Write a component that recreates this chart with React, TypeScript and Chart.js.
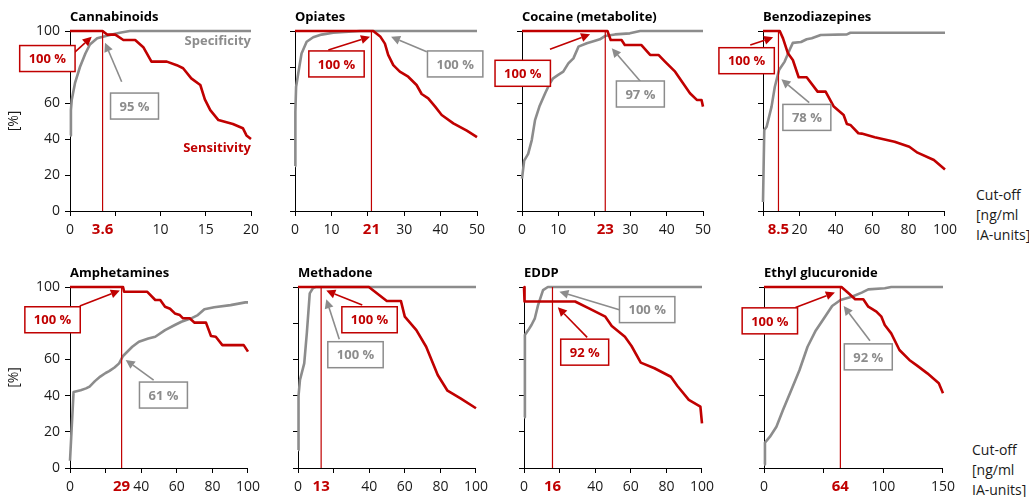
import React, { useEffect, useRef } from 'react';
import { Chart, registerables } from 'chart.js';

Chart.register(...registerables);

const FONT = "'Open Sans', 'DejaVu Sans', sans-serif";
const RED = '#C00000';
const GRAY = '#8C8C8C';
const INK = '#1A1A1A';

type Pt = [number, number];

// ---------- data: [cut-off, %] ----------
const cannabinoidsSensitivity: Pt[] = [[0,100],[3.6,100],[4.1,98],[5.0,98],[5.9,95],[7.2,95],[8.1,91],[9.0,83],[10.7,83],[11.8,81],[12.5,79.3],[13.4,73.7],[14.4,70],[14.9,62],[15.5,56],[16.4,50.5],[18.0,48.3],[19.1,46],[19.5,42],[20,40]];
const cannabinoidsSpecificity: Pt[] = [[0,42],[0.1,56],[0.2,62],[0.55,71],[1.1,80],[1.7,87.5],[2.2,92.5],[3,96],[4.4,97.8],[5.5,99],[6.6,100],[20,100]];

const opiatesSensitivity: Pt[] = [[0,100],[21.5,100],[23.4,97],[24.7,93],[25.6,86.7],[27,81],[28.8,77.4],[31.1,74.6],[33.4,70],[34.8,65],[36.6,62.6],[38.5,58],[40.3,53.3],[43.5,48.7],[47.2,44.6],[50,41]];
const opiatesSpecificity: Pt[] = [[0,25],[0.1,55],[0.3,69],[0.9,76.5],[1.8,87.5],[3.2,94],[5,96.5],[7.3,98],[10.5,99],[17.9,100],[50,100]];

const cocaineSensitivity: Pt[] = [[0,100],[23.6,100],[24.5,95],[27.5,95],[28.4,92.2],[33,92.2],[35.4,86.7],[37.7,86.7],[39.5,83],[42.3,77.4],[44.2,71.8],[46.4,65.4],[48.3,61.7],[49.6,61.7],[50,58]];
const cocaineSpecificity: Pt[] = [[0,18],[0.6,28],[1.7,31.7],[2.7,39.4],[3.6,50.5],[4.8,58],[6.4,65.4],[7.7,71],[8.6,73.7],[10,75.6],[11.4,77.4],[12.8,82],[14.2,84.8],[15.6,91.3],[17.9,93.2],[20.2,94.6],[21.5,95.4],[22.9,97.2],[25.7,98.1],[29.8,98.7],[32.6,100],[50,100]];

const benzodiazepinesSensitivity: Pt[] = [[0,100],[9.2,100],[11,95.9],[13.7,87.6],[16.4,83.9],[19.6,74.3],[24,74.3],[30,66.3],[34.4,66.3],[38.9,58],[44.3,53.3],[46.1,48.3],[48,47.8],[52.4,43.2],[54.2,43],[61.4,41],[72.3,38.5],[80.4,35.7],[84.9,32.4],[93.9,28.3],[100,23]];
const benzodiazepinesSpecificity: Pt[] = [[0,5],[0.7,45],[2,46.8],[4.7,58],[6.5,69],[8.8,78.3],[11.9,83],[14.6,89.4],[16.4,93.4],[20.9,93.9],[24,95.4],[26.8,96],[31.7,97.8],[46.1,98.1],[48,99],[100,99]];

const amphetaminesSensitivity: Pt[] = [[0,100],[29.8,100],[30.4,97.4],[43.3,97.4],[47.9,92.8],[50.7,92.8],[53.4,89.1],[56.2,88],[58.9,85.4],[61.7,84.5],[63.5,82.7],[67.2,82.7],[70,80.3],[76.4,80.3],[79.2,72.9],[81.9,72.5],[85.6,67.9],[97.6,67.9],[100,64.3]];
const amphetaminesSpecificity: Pt[] = [[0,4],[2,42],[6,43],[9,44],[11,45],[14,48],[17,50.5],[20,52.5],[22,53.5],[25,55.5],[27.6,57.8],[29.8,61.9],[35,67],[38.7,69.8],[44,71.5],[47.9,72.5],[53.4,76.2],[58.9,79],[62.6,80.8],[68.1,82.7],[71.8,84.5],[75.5,87.7],[81,88.8],[90.2,90],[98.5,91.5],[100,91.5]];

const methadoneSensitivity: Pt[] = [[0,100],[39.8,100],[49.9,92.3],[57.8,92.3],[60,83.6],[66.5,76.2],[72,67],[78.5,51.4],[84,42.7],[91.3,38.5],[100,33]];
const methadoneSpecificity: Pt[] = [[0,10],[0.3,40],[1.1,48.6],[3.5,57.8],[5,75],[6.6,96.5],[8.5,99.5],[10,100],[100,100]];

const eddpSensitivity: Pt[] = [[0,100],[0.3,92],[28.7,92],[36.5,88.2],[45.7,83.6],[49.3,78.5],[56.7,72.5],[60.4,67.4],[65.6,58.2],[73.3,55.1],[82.5,50.4],[86.2,45.3],[92.6,37.6],[99.1,33.9],[100,24.7]];
const eddpSpecificity: Pt[] = [[0,28],[0.5,73.5],[2.4,76.2],[4.2,79],[6.1,82.7],[7.9,90],[10.7,98.3],[13.4,100],[100,100]];

const etgSensitivity: Pt[] = [[0,100],[64.9,100],[70.9,96.5],[76.4,93.2],[83.2,93.2],[87.4,89.1],[94.2,86.4],[98.4,83.6],[101.2,79],[106.6,74.4],[113.5,65.2],[121.8,59.7],[128.6,56.4],[136.9,52.3],[146.5,46.8],[150,41.3]];
const etgSpecificity: Pt[] = [[0,2],[0.8,14],[5,17.3],[10.4,22.8],[15.9,32],[22.8,43],[29.7,54],[36.5,67],[43.4,76],[50.3,82.7],[57.1,89.5],[64.1,92.8],[73.6,94.6],[81.9,96.9],[87.4,98.7],[101.2,99.3],[106.6,100],[150,100]];

const sensitivitySeries: Pt[][] = [cannabinoidsSensitivity, opiatesSensitivity, cocaineSensitivity, benzodiazepinesSensitivity, amphetaminesSensitivity, methadoneSensitivity, eddpSensitivity, etgSensitivity];
const specificitySeries: Pt[][] = [cannabinoidsSpecificity, opiatesSpecificity, cocaineSpecificity, benzodiazepinesSpecificity, amphetaminesSpecificity, methadoneSpecificity, eddpSpecificity, etgSpecificity];

const titles = ['Cannabinoids', 'Opiates', 'Cocaine (metabolite)', 'Benzodiazepines', 'Amphetamines', 'Methadone', 'EDDP', 'Ethyl glucuronide'];
const cutoffs = [3.6, 21, 23, 8.5, 29, 13, 16, 64];
const cutoffLabels = ['3.6', '21', '23', '8.5', '29', '13', '16', '64'];
const sensitivityAtCutoff = ['100 %', '100 %', '100 %', '100 %', '100 %', '100 %', '92 %', '100 %'];
const specificityAtCutoff = ['95 %', '100 %', '97 %', '78 %', '61 %', '100 %', '100 %', '92 %'];
const xMaxima = [20, 50, 50, 100, 100, 100, 100, 150];
const xSteps = [5, 10, 10, 20, 20, 20, 20, 50];
const xTickLabels = [
  ['0', '', '10', '15', '20'],
  ['0', '10', '', '30', '40', '50'],
  ['0', '10', '', '30', '40', '50'],
  ['', '20', '40', '60', '80', '100'],
  ['0', '', '40', '60', '80', '100'],
  ['0', '', '40', '60', '80', '100'],
  ['0', '', '40', '60', '80', '100'],
  ['0', '', '100', '150'],
];
const yTickLabels = ['0', '20', '40', '60', '80', '100'];

// ---------- layout (page pixels of each plot area: left, top, right, bottom) ----------
const frames = [
  [70, 31, 251, 211], [295, 31, 477, 211], [522, 31, 703, 211], [763, 31, 948, 211],
  [70, 287, 251, 468], [298, 287, 479, 468], [524, 287, 705, 468], [764, 287, 946, 468],
];

// callout positions in data units of each panel
type Callout = { box: Pt; from: Pt; tip: Pt };
const redCallouts: Callout[] = [
  { box: [-2.5, 84.7], from: [0.44, 87.8], tip: [2.4, 96.8] },
  { box: [11.4, 81.7], from: [9.15, 89.4], tip: [20.6, 96.8] },
  { box: [0.2, 76.5], from: [7.73, 89.8], tip: [18.8, 98.2] },
  { box: [-9.0, 83.5], from: [-7, 92.2], tip: [5.6, 96.5] },
  { box: [-9.8, 81.9], from: [5.5, 89.5], tip: [28, 98] },
  { box: [40.2, 81.9], from: [36.1, 90], tip: [15.9, 98] },
  { box: [34.1, 64], from: [35.5, 72.2], tip: [19, 88.8] },
  { box: [4.9, 81.3], from: [26.4, 88.7], tip: [59.4, 97] },
];
const grayCallouts: Callout[] = [
  { box: [7.13, 58.3], from: [5.71, 71.8], tip: [3.87, 93.5] },
  { box: [44, 81.7], from: [36.2, 88.5], tip: [26.4, 96.8] },
  { box: [32.7, 65], from: [32.8, 71.8], tip: [24.8, 90.4] },
  { box: [24.1, 52], from: [25.4, 60.2], tip: [10.1, 73.2] },
  { box: [52.5, 40.3], from: [47, 48.6], tip: [31.3, 59.7] },
  { box: [32.3, 62.6], from: [23.2, 71.1], tip: [15.9, 93.2] },
  { box: [69.2, 87.5], from: [54, 87.3], tip: [19.9, 97.4] },
  { box: [87.4, 61.4], from: [88.8, 70.3], tip: [66.8, 89.5] },
];
const specificityLabelPos: Pt = [20, 92.2];
const sensitivityLabelPos: Pt = [20, 32.9];

Chart.defaults.font.family = FONT;

function drawCallout(ctx: CanvasRenderingContext2D, c: Callout, text: string, color: string, px: (v: number) => number, py: (v: number) => number) {
  const fx = px(c.from[0]), fy = py(c.from[1]);
  const tx = px(c.tip[0]), ty = py(c.tip[1]);
  const ang = Math.atan2(ty - fy, tx - fx);
  const head = 9, half = 4.5;
  const bx = tx - head * Math.cos(ang), by = ty - head * Math.sin(ang);
  ctx.strokeStyle = color;
  ctx.fillStyle = color;
  ctx.lineWidth = 1.6;
  ctx.beginPath();
  ctx.moveTo(fx, fy);
  ctx.lineTo(bx, by);
  ctx.stroke();
  ctx.beginPath();
  ctx.moveTo(tx, ty);
  ctx.lineTo(bx + half * Math.sin(ang), by - half * Math.cos(ang));
  ctx.lineTo(bx - half * Math.sin(ang), by + half * Math.cos(ang));
  ctx.closePath();
  ctx.fill();
  ctx.font = `bold 13px ${FONT}`;
  const tw = ctx.measureText(text).width;
  const w = tw + 18, h = 26;
  const cx = px(c.box[0]), cy = py(c.box[1]);
  ctx.fillStyle = '#fff';
  ctx.fillRect(cx - w / 2, cy - h / 2, w, h);
  ctx.lineWidth = 1.5;
  ctx.strokeStyle = color;
  ctx.strokeRect(cx - w / 2, cy - h / 2, w, h);
  ctx.fillStyle = color;
  ctx.textAlign = 'center';
  ctx.textBaseline = 'middle';
  ctx.fillText(text, cx, cy + 1);
}

function decor(i: number) {
  return {
    id: 'decor' + i,
    afterDraw(chart: any) {
      const { ctx, chartArea, scales } = chart;
      const px = (v: number) => scales.x.getPixelForValue(v);
      const py = (v: number) => scales.y.getPixelForValue(v);
      ctx.save();
      ctx.font = `bold 13px ${FONT}`;
      ctx.fillStyle = '#000';
      ctx.textAlign = 'left';
      ctx.textBaseline = 'alphabetic';
      ctx.fillText(titles[i], chartArea.left, chartArea.top - 10);

      const cx = px(cutoffs[i]);
      ctx.strokeStyle = RED;
      ctx.lineWidth = 1.2;
      ctx.beginPath();
      ctx.moveTo(cx, py(0));
      ctx.lineTo(cx, py(100));
      ctx.stroke();

      ctx.font = `bold 15px ${FONT}`;
      ctx.fillStyle = RED;
      ctx.textAlign = 'center';
      ctx.textBaseline = 'middle';
      ctx.fillText(cutoffLabels[i], cx, chartArea.bottom + 19);

      if (i === 0) {
        ctx.font = `bold 13px ${FONT}`;
        ctx.textAlign = 'right';
        ctx.textBaseline = 'alphabetic';
        ctx.fillStyle = GRAY;
        ctx.fillText('Specificity', px(specificityLabelPos[0]), py(specificityLabelPos[1]));
        ctx.fillStyle = RED;
        ctx.fillText('Sensitivity', px(sensitivityLabelPos[0]), py(sensitivityLabelPos[1]));
      }

      drawCallout(ctx, redCallouts[i], sensitivityAtCutoff[i], RED, px, py);
      drawCallout(ctx, grayCallouts[i], specificityAtCutoff[i], GRAY, px, py);
      ctx.restore();
    },
  };
}

function buildConfig(i: number): any {
  const firstCol = i % 4 === 0;
  const axisGrid = { display: true, drawOnChartArea: false, drawTicks: true, tickLength: 5, color: '#000', lineWidth: 1 };
  const axisBorder = { display: true, color: '#000', width: 1 };
  return {
    type: 'line',
    data: {
      datasets: [
        {
          label: 'Sensitivity',
          data: sensitivitySeries[i].map(([x, y]) => ({ x, y })),
          borderColor: RED,
          borderWidth: 2.6,
          pointRadius: 0,
          tension: 0,
          borderJoinStyle: 'round',
          clip: false,
        },
        {
          label: 'Specificity',
          data: specificitySeries[i].map(([x, y]) => ({ x, y })),
          borderColor: GRAY,
          borderWidth: 2.6,
          pointRadius: 0,
          tension: 0,
          borderJoinStyle: 'round',
          clip: false,
        },
      ],
    },
    options: {
      responsive: false,
      animation: false,
      events: [],
      layout: { padding: { top: 31, right: 15, left: 0, bottom: 0 } },
      plugins: { legend: { display: false }, tooltip: { enabled: false }, title: { display: false } },
      scales: {
        x: {
          type: 'linear',
          min: 0,
          max: xMaxima[i],
          grid: axisGrid,
          border: axisBorder,
          ticks: {
            stepSize: xSteps[i],
            autoSkip: false,
            maxRotation: 0,
            padding: 6,
            color: INK,
            font: { family: FONT, size: 14 },
            callback: (_v: any, idx: number) => xTickLabels[i][idx] ?? '',
          },
          afterFit: (s: any) => { s.height = 30; },
        },
        y: {
          type: 'linear',
          min: 0,
          max: 100,
          grid: axisGrid,
          border: axisBorder,
          ticks: {
            display: firstCol,
            stepSize: 20,
            padding: 5,
            color: INK,
            font: { family: FONT, size: 14 },
            callback: (_v: any, idx: number) => yTickLabels[idx] ?? '',
          },
          title: { display: firstCol, text: '[%]', color: INK, font: { family: FONT, size: 14 }, padding: { top: 6, bottom: 0 } },
          afterFit: (s: any) => { s.width = 70; },
        },
      },
    },
    plugins: [decor(i)],
  };
}

function Panel({ index }: { index: number }) {
  const ref = useRef<HTMLCanvasElement>(null);
  const [l, t, r, b] = frames[index];
  const w = r - l + 85;
  const h = b - t + 61;
  useEffect(() => {
    const chart = new Chart(ref.current as HTMLCanvasElement, buildConfig(index));
    return () => chart.destroy();
  }, [index]);
  return (
    <canvas
      ref={ref}
      width={w}
      height={h}
      style={{ position: 'absolute', left: l - 70, top: t - 31, width: w, height: h }}
    />
  );
}

const axisNoteStyle: React.CSSProperties = {
  position: 'absolute',
  fontFamily: FONT,
  fontSize: 14,
  lineHeight: '20px',
  color: INK,
  whiteSpace: 'pre',
};

export default function App() {
  return (
    <div style={{ position: 'absolute', left: 0, top: 0, width: 1029, height: 497, background: '#fff', overflow: 'hidden' }}>
      {titles.map((_, i) => <Panel key={i} index={i} />)}
      <div style={{ ...axisNoteStyle, left: 976, top: 185 }}>{'Cut-off\n[ng/ml\nIA-units]'}</div>
      <div style={{ ...axisNoteStyle, left: 972, top: 440 }}>{'Cut-off\n[ng/ml\nIA-units]'}</div>
    </div>
  );
}
